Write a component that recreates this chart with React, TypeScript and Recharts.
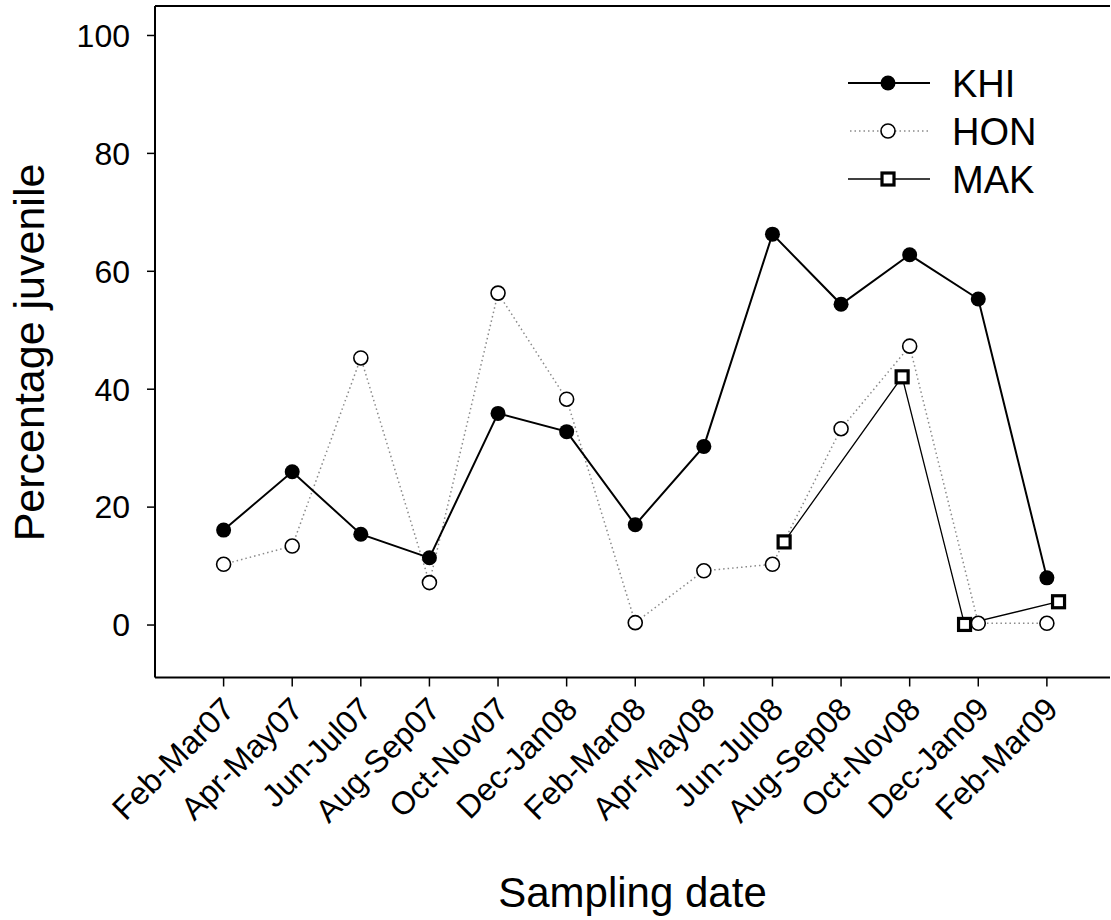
import React from 'react';
import { LineChart, Line, XAxis, YAxis, ReferenceLine, Label } from 'recharts';

// sampling periods (x = 1..13)
const periods = [
  'Feb-Mar07', 'Apr-May07', 'Jun-Jul07', 'Aug-Sep07', 'Oct-Nov07', 'Dec-Jan08', 'Feb-Mar08',
  'Apr-May08', 'Jun-Jul08', 'Aug-Sep08', 'Oct-Nov08', 'Dec-Jan09', 'Feb-Mar09'
];
const periodPos = [1, 2, 3, 4, 5, 6, 7, 8, 9, 10, 11, 12, 13];

const khiValues = [16.1, 26.0, 15.4, 11.4, 35.9, 32.8, 17.0, 30.3, 66.3, 54.4, 62.8, 55.3, 8.0];
const honValues = [10.3, 13.4, 45.3, 7.2, 56.3, 38.3, 0.4, 9.2, 10.3, 33.3, 47.3, 0.3, 0.3];

// MAK was plotted slightly off the period positions
const makPos = [9.17, 10.89, 11.8, 13.17];
const makValues = [14.1, 42.1, 0.1, 3.95];

const yTicks = [0, 20, 40, 60, 80, 100];

const khiData = periodPos.map((x, i) => ({ x, y: khiValues[i] }));
const honData = periodPos.map((x, i) => ({ x, y: honValues[i] }));
const makData = makPos.map((x, i) => ({ x, y: makValues[i] }));

const FONT = '"Liberation Sans", Arial, sans-serif';

function XTick(props: any) {
  const { x, y, payload } = props;
  const ax = x + 4.5;
  const ay = y + 14.5;
  const label = periods[payload.value - 1] ?? '';
  return (
    <text
      x={ax}
      y={ay}
      dy="0.36em"
      textAnchor="end"
      transform={`rotate(-45, ${ax}, ${ay})`}
      fontSize={32}
      fontFamily={FONT}
      fill="#000"
    >
      {label}
    </text>
  );
}

function SquareDot(props: any) {
  const { cx, cy, index } = props;
  if (cx == null || cy == null) return <g key={`sq-${index}`} />;
  return (
    <rect
      key={`sq-${index}`}
      x={cx - 6}
      y={cy - 6}
      width={12}
      height={12}
      fill="#fff"
      stroke="#000"
      strokeWidth={3.2}
    />
  );
}

function YTitle(props: any) {
  const cx = 43.5;
  const cy = 352.5;
  return (
    <text
      x={cx}
      y={cy}
      textAnchor="middle"
      transform={`rotate(-90, ${cx}, ${cy})`}
      fontSize={43}
      fontFamily={FONT}
      fill="#000"
    >
      Percentage juvenile
    </text>
  );
}

const legendItems = [
  { name: 'KHI', kind: 'filled' },
  { name: 'HON', kind: 'open' },
  { name: 'MAK', kind: 'square' }
];

function LegendBox() {
  return (
    <svg width={260} height={160} style={{ position: 'absolute', left: 840, top: 40 }}>
      {legendItems.map((item, i) => {
        const y = 43 + i * 48;
        return (
          <g key={item.name}>
            {item.kind === 'open' ? (
              <line x1={10} x2={90} y1={y} y2={y} stroke="#8a8a8a" strokeWidth={1.5} strokeDasharray="1.5 3" />
            ) : (
              <line x1={8} x2={90} y1={y} y2={y} stroke="#000" strokeWidth={item.kind === 'filled' ? 2 : 1.3} />
            )}
            {item.kind === 'filled' && <circle cx={48} cy={y} r={7.5} fill="#000" />}
            {item.kind === 'open' && <circle cx={48} cy={y} r={7} fill="#fff" stroke="#000" strokeWidth={1.6} />}
            {item.kind === 'square' && (
              <rect x={42} y={y - 6} width={12} height={12} fill="#fff" stroke="#000" strokeWidth={3.2} />
            )}
            <text x={112} y={y} dy="0.36em" fontSize={38} fontFamily={FONT} fill="#000">
              {item.name}
            </text>
          </g>
        );
      })}
    </svg>
  );
}

export default function App() {
  return (
    <div style={{ position: 'absolute', left: 0, top: 0, width: 1111, height: 920, background: '#fff' }}>
      <LineChart width={1111} height={920} margin={{ top: 6, right: 1, left: 0, bottom: 0 }}>
        <XAxis
          dataKey="x"
          type="number"
          domain={[0, 13.92]}
          ticks={periodPos}
          allowDataOverflow
          tickSize={9}
          tick={<XTick />}
          axisLine={{ stroke: '#000', strokeWidth: 2 }}
          tickLine={{ stroke: '#000', strokeWidth: 1.5 }}
          height={242.5}
        >
          <Label
            value="Sampling date"
            position="insideBottom"
            offset={13}
            fontSize={42}
            fontFamily={FONT}
            fill="#000"
          />
        </XAxis>
        <YAxis
          type="number"
          domain={[-8.9, 105]}
          ticks={yTicks}
          allowDataOverflow
          width={155}
          tickSize={8}
          tickMargin={17}
          tick={{ fontSize: 32, fontFamily: FONT, fill: '#000' }}
          axisLine={{ stroke: '#000', strokeWidth: 2 }}
          tickLine={{ stroke: '#000', strokeWidth: 1.5 }}
          label={<YTitle />}
        />
        <ReferenceLine y={105} stroke="#000" strokeWidth={2} ifOverflow="visible" />
        <Line
          data={honData}
          dataKey="y"
          stroke="#8a8a8a"
          strokeWidth={1.5}
          strokeDasharray="1.5 3"
          dot={{ r: 7, fill: '#fff', stroke: '#000', strokeWidth: 1.6, strokeDasharray: '' }}
          activeDot={false}
          isAnimationActive={false}
        />
        <Line
          data={khiData}
          dataKey="y"
          stroke="#000"
          strokeWidth={2}
          dot={{ r: 7.5, fill: '#000', stroke: '#000', strokeWidth: 0 }}
          activeDot={false}
          isAnimationActive={false}
        />
        <Line
          data={makData}
          dataKey="y"
          stroke="#000"
          strokeWidth={1.3}
          dot={<SquareDot />}
          activeDot={false}
          isAnimationActive={false}
        />
      </LineChart>
      <LegendBox />
    </div>
  );
}
